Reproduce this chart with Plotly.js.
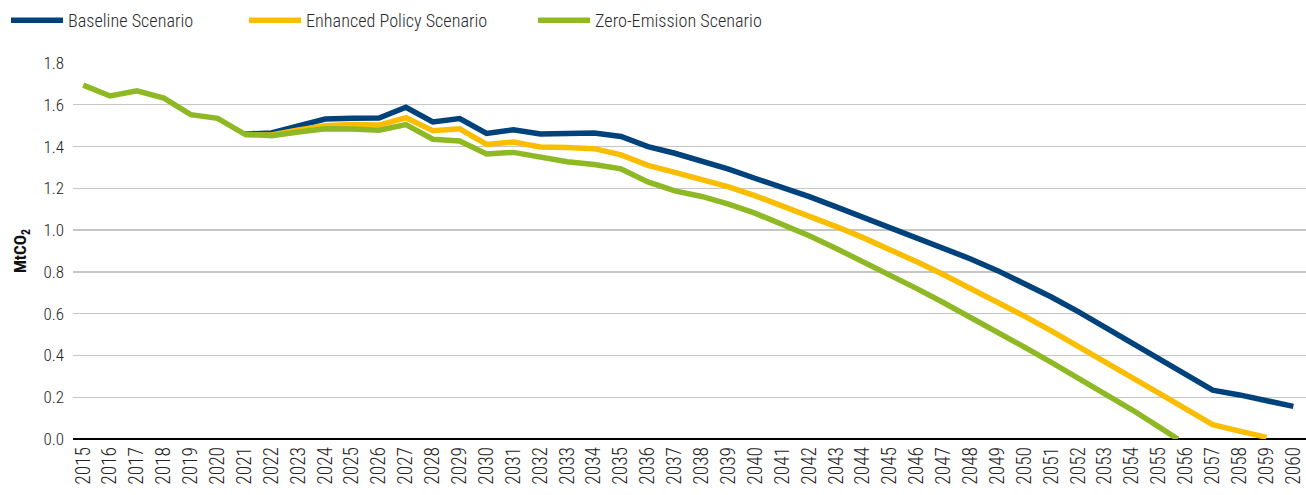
<!DOCTYPE html>
<html>
<head>
<meta charset="utf-8">
<script src="https://cdn.plot.ly/plotly-3.0.1.min.js"></script>
<style>
html,body{margin:0;padding:0;background:#fff;}
#chart{width:1306px;height:495px;}
</style>
</head>
<body>
<div id="chart"></div>
<script>
// Years on the category axis
const years = [2015,2016,2017,2018,2019,2020,2021,2022,2023,2024,2025,2026,2027,2028,2029,2030,
  2031,2032,2033,2034,2035,2036,2037,2038,2039,2040,2041,2042,2043,2044,2045,2046,2047,2048,2049,2050,
  2051,2052,2053,2054,2055,2056,2057,2058,2059,2060];

// Baseline Scenario (starts 2021)
const baseline = [null,null,null,null,null,null,
  1.460,1.465,1.499,1.532,1.535,1.537,1.588,1.518,1.534,1.463,
  1.480,1.460,1.463,1.465,1.448,1.400,1.368,1.332,1.292,1.247,
  1.205,1.160,1.111,1.062,1.014,0.966,0.915,0.862,0.806,0.746,
  0.680,0.610,0.535,0.460,0.385,0.310,0.234,0.211,0.183,0.156];

// Enhanced Policy Scenario (starts 2021, ends 2059)
const enhanced = [null,null,null,null,null,null,
  1.455,1.455,1.480,1.500,1.505,1.503,1.538,1.476,1.485,1.410,
  1.422,1.398,1.395,1.390,1.360,1.310,1.276,1.244,1.207,1.164,
  1.117,1.068,1.017,0.964,0.908,0.848,0.786,0.722,0.656,0.588,
  0.518,0.445,0.371,0.296,0.220,0.144,0.069,0.038,0.008,null];

// Zero-Emission Scenario (reaches zero part-way through 2055-2056)
const zeroYears = [2015,2016,2017,2018,2019,2020,2021,2022,2023,2024,2025,2026,2027,2028,2029,2030,
  2031,2032,2033,2034,2035,2036,2037,2038,2039,2040,2041,2042,2043,2044,2045,2046,2047,2048,2049,2050,
  2051,2052,2053,2054,2055,2055.7];
const zeroEmission = [1.694,1.642,1.667,1.632,1.553,1.535,1.460,1.452,1.470,1.485,1.484,1.478,1.505,1.435,1.427,1.364,
  1.372,1.348,1.327,1.314,1.293,1.231,1.188,1.161,1.124,1.080,1.029,0.973,0.912,0.850,0.786,0.720,0.652,0.583,0.512,0.440,
  0.367,0.293,0.218,0.140,0.058,0.000];

const seriesNames = ['Baseline Scenario','Enhanced Policy Scenario','Zero-Emission Scenario'];
const yTicks = [0,0.2,0.4,0.6,0.8,1.0,1.2,1.4,1.6,1.8];
const yTickText = ['0.0','0.2','0.4','0.6','0.8','1.0','1.2','1.4','1.6','1.8'];

const FONT = '"Roboto Condensed","Liberation Sans Narrow","DejaVu Sans Condensed",Roboto,sans-serif';
const colors = ['#00437C','#FBBD00','#8FB924'];

const traces = [
  {x: years, y: baseline, name: seriesNames[0], legend: 'legend'},
  {x: years, y: enhanced, name: seriesNames[1], legend: 'legend2'},
  {x: zeroYears, y: zeroEmission, name: seriesNames[2], legend: 'legend3'}
].map((t,i)=>Object.assign(t,{
  type:'scatter', mode:'lines', connectgaps:false, cliponaxis:false,
  line:{color:colors[i], width:5.5},
  hoverinfo:'x+y+name'
}));

function leg(px){
  return {x:px/1306, y:1 - 2/495, xref:'container', yref:'container', xanchor:'left', yanchor:'top',
    orientation:'h', itemwidth:52, bgcolor:'rgba(0,0,0,0)',
    font:{family:FONT, size:18.2, color:'#2a2a2a', weight:300}};
}

const layout = {
  width:1306, height:495,
  margin:{l:73, r:0, t:63, b:56},
  paper_bgcolor:'#fff', plot_bgcolor:'#fff',
  font:{family:FONT, size:16, color:'#222'},
  showlegend:true,
  legend: leg(6),
  legend2: leg(244),
  legend3: leg(533),
  xaxis:{
    range:[2014.62, 2060.47],
    tickmode:'array', tickvals: years, ticktext: years.map(String),
    tickangle:-90,
    showgrid:false, zeroline:false, showline:false, ticks:'',
    ticklabelstandoff:3,
    tickfont:{family:FONT, size:19.5, color:'#222', weight:300},
    fixedrange:true
  },
  yaxis:{
    range:[0,1.8],
    tickmode:'array', tickvals:yTicks, ticktext:yTickText,
    showgrid:true, gridcolor:'#C6C6C6', gridwidth:1.3,
    zeroline:true, zerolinecolor:'#000', zerolinewidth:1.5,
    showline:false, ticks:'', ticklabelstandoff:8,
    tickfont:{family:FONT, size:17, color:'#222', weight:300},
    title:{text:'<b>MtCO<sub>2</sub></b>', font:{family:FONT, size:17, color:'#111'}, standoff:12},
    fixedrange:true
  }
};

Plotly.newPlot('chart', traces, layout, {displayModeBar:false, staticPlot:true});
</script>
</body>
</html>
